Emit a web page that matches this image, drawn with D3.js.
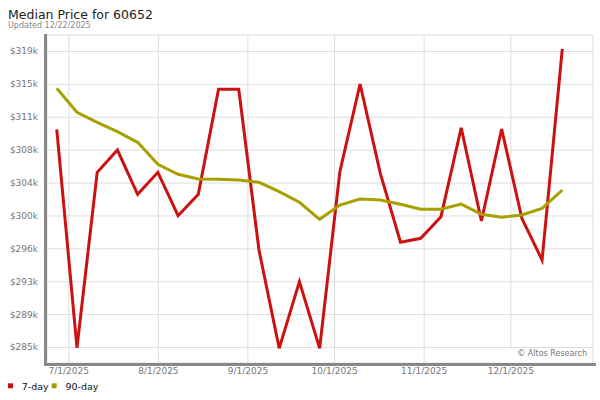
<!DOCTYPE html>
<html><head><meta charset="utf-8">
<script src="https://cdn.jsdelivr.net/npm/d3@7"></script>
<style>body{margin:0;background:#fff}svg{display:block;font-family:"DejaVu Sans",Verdana,sans-serif}</style>
</head><body>
<svg id="c" width="600" height="400"></svg>
<script>
const dates = ["2025-06-27","2025-07-04","2025-07-11","2025-07-18","2025-07-25","2025-08-01","2025-08-08","2025-08-15","2025-08-22","2025-08-29","2025-09-05","2025-09-12","2025-09-19","2025-09-26","2025-10-03","2025-10-10","2025-10-17","2025-10-24","2025-10-31","2025-11-07","2025-11-14","2025-11-21","2025-11-28","2025-12-05","2025-12-12","2025-12-19"];
const day7 = [310020,285120,305120,307660,302610,305120,300170,302610,314580,314580,296260,285050,292650,285050,305190,315190,305000,297140,297590,300060,310200,299570,310060,299870,295120,319180];
const day90 = [314700,311960,310820,309750,308540,306030,304890,304360,304320,304240,303980,302910,301700,299760,301390,302080,301960,301470,300900,300900,301500,300330,299990,300250,301010,303100];
const yTickValues = [285200,288950,292700,296450,300200,303950,307700,311450,315200,318950];
const yTickLabels = ["$285k","$289k","$293k","$296k","$300k","$304k","$308k","$311k","$315k","$319k"];
const xTickDates = ["2025-07-01","2025-08-01","2025-09-01","2025-10-01","2025-11-01","2025-12-01"];
const xTickLabels = ["7/1/2025","8/1/2025","9/1/2025","10/1/2025","11/1/2025","12/1/2025"];
const seriesNames = ["7-day","90-day"];
const colors = ["#cc1111","#a8a000"];

const svg = d3.select("#c");
const L=47, R=593, T=35, B=363;
const parse = d3.timeParse("%Y-%m-%d");
const x = d3.scaleTime().domain([new Date(2025,5,23,15), new Date(2025,11,29,15)]).range([L,R]);
const y = d3.scaleLinear().domain([283376,320774]).range([B,T]);

// title
svg.append("text").attr("x",8).attr("y",18.5).attr("font-size",12.5).attr("fill","#222").text("Median Price for 60652");
svg.append("text").attr("x",8).attr("y",27.5).attr("font-size",8).attr("fill","#888").text("Updated 12/22/2025");

// plot frame
svg.append("rect").attr("x",L).attr("y",T).attr("width",R-L).attr("height",B-T).attr("fill","#fff").attr("stroke","#ddd");

// grid
const g = svg.append("g");
const yAxis = d3.axisLeft(y).tickValues(yTickValues).tickFormat((d,i)=>yTickLabels[i]).tickSize(-(R-L)).tickPadding(9);
const ya = svg.append("g").attr("transform",`translate(${L},0)`).call(yAxis);
ya.select(".domain").remove();
ya.selectAll("line").attr("stroke","#ddd");
ya.selectAll("text").attr("font-size",9).attr("fill","#777").attr("font-family","DejaVu Sans");

const xAxis = d3.axisBottom(x).tickValues(xTickDates.map(parse)).tickFormat((d,i)=>xTickLabels[i]).tickSize(-(B-T)).tickPadding(5);
const xa = svg.append("g").attr("transform",`translate(0,${B})`).call(xAxis);
xa.select(".domain").remove();
xa.selectAll("line").attr("stroke","#ddd");
xa.selectAll("text").attr("font-size",9).attr("fill","#777").attr("font-family","DejaVu Sans");

// lines
const line = d3.line().x((d,i)=>x(parse(dates[i]))).y(d=>y(d));
[day7, day90].forEach((s,k)=>{
  svg.append("path").datum(s).attr("d",line).attr("fill","none").attr("stroke",colors[k]).attr("stroke-width",3).attr("stroke-linejoin","miter");
});
// re-draw 90-day under? keep order: 7-day first then 90-day on top
// credit box
svg.append("rect").attr("x",507).attr("y",348).attr("width",85).attr("height",14.5).attr("fill","#fff");
svg.append("text").attr("x",587).attr("y",355.8).attr("text-anchor","end").attr("font-size",8).attr("fill","#777").text("© Altos Research");

// thick left/bottom border
svg.append("rect").attr("x",44).attr("y",34).attr("width",3).attr("height",332).attr("fill","#888");
svg.append("rect").attr("x",44).attr("y",363).attr("width",552).attr("height",3).attr("fill","#888");

// legend
const lg = svg.append("g");
seriesNames.forEach((n,i)=>{
  const lx = [8,51.7][i];
  lg.append("rect").attr("x",lx).attr("y",383.3).attr("width",5).attr("height",5).attr("fill",colors[i]);
  lg.append("text").attr("x",lx+13.7).attr("y",390).attr("font-size",9.5).attr("fill","#111").text(n);
});
</script>
</body></html>
